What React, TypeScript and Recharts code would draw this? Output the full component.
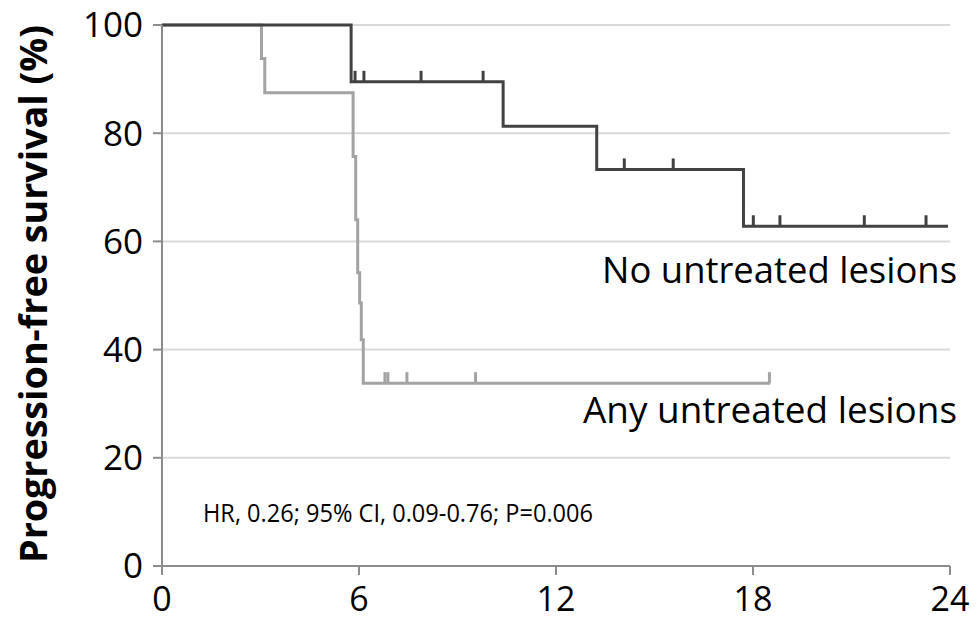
import React from "react";
import {
  ComposedChart,
  Line,
  Scatter,
  XAxis,
  YAxis,
  CartesianGrid,
  Customized,
} from "recharts";

const noUntreated = [
  { x: 0, y: 100 },
  { x: 5.76, y: 89.5 },
  { x: 10.39, y: 81.3 },
  { x: 13.24, y: 73.3 },
  { x: 17.71, y: 62.8 },
  { x: 23.94, y: 62.8 },
];

const anyUntreated = [
  { x: 0, y: 100 },
  { x: 3.03, y: 93.8 },
  { x: 3.13, y: 87.5 },
  { x: 5.82, y: 75.7 },
  { x: 5.9, y: 64.0 },
  { x: 5.96, y: 54.2 },
  { x: 6.02, y: 48.6 },
  { x: 6.07, y: 41.8 },
  { x: 6.13, y: 33.8 },
  { x: 18.52, y: 33.8 },
];

const noUntreatedCensored = [
  { x: 5.88, y: 89.5 },
  { x: 6.15, y: 89.5 },
  { x: 7.89, y: 89.5 },
  { x: 9.78, y: 89.5 },
  { x: 14.08, y: 73.3 },
  { x: 15.57, y: 73.3 },
  { x: 18.01, y: 62.8 },
  { x: 18.82, y: 62.8 },
  { x: 21.39, y: 62.8 },
  { x: 23.27, y: 62.8 },
];

const anyUntreatedCensored = [
  { x: 6.79, y: 33.8 },
  { x: 6.88, y: 33.8 },
  { x: 7.46, y: 33.8 },
  { x: 9.55, y: 33.8 },
  { x: 18.5, y: 33.8 },
];

const xTicks = [0, 6, 12, 18, 24];
const yTicks = [0, 20, 40, 60, 80, 100];

const DARK = "#424242";
const LIGHT = "#a3a3a3";
const FONT = "'Open Sans', sans-serif";

const censorShape = (color: string) => (props: any) => {
  const { cx, cy } = props;
  return (
    <line x1={cx} x2={cx} y1={cy} y2={cy - 11} stroke={color} strokeWidth={3} />
  );
};

const Annotations = () => (
  <g fontFamily={FONT} fill="#000">
    <text
      transform="translate(47 294) rotate(-90)"
      x={0}
      y={0}
      textAnchor="middle"
      fontSize={38}
      fontWeight="bold"
      textLength={538}
      lengthAdjust="spacingAndGlyphs"
    >
      Progression-free survival (%)
    </text>
    <text
      x={602}
      y={283}
      fontSize={37}
      textLength={355}
      lengthAdjust="spacingAndGlyphs"
    >
      No untreated lesions
    </text>
    <text
      x={583}
      y={423}
      fontSize={37}
      textLength={374}
      lengthAdjust="spacingAndGlyphs"
    >
      Any untreated lesions
    </text>
    <text
      x={203}
      y={522}
      fontSize={25}
      textLength={390}
      lengthAdjust="spacingAndGlyphs"
    >
      HR, 0.26; 95% CI, 0.09-0.76; P=0.006
    </text>
  </g>
);

export default function App() {
  return (
    <div
      style={{
        position: "absolute",
        top: 0,
        left: 0,
        width: 978,
        height: 617,
        background: "#fff",
      }}
    >
      <ComposedChart
        width={978}
        height={617}
        margin={{ top: 25, right: 28, bottom: 11, left: 82 }}
      >
        <CartesianGrid vertical={false} stroke="#d9d9d9" strokeWidth={2} />
        <XAxis
          dataKey="x"
          type="number"
          domain={[0, 24]}
          ticks={xTicks}
          height={40}
          stroke="#8c8c8c"
          strokeWidth={2}
          tickSize={9}
          tickMargin={12}
          tick={{ fill: "#000", fontSize: 34, fontFamily: FONT }}
          allowDuplicatedCategory={false}
        />
        <YAxis
          dataKey="y"
          type="number"
          domain={[0, 100]}
          ticks={yTicks}
          width={80}
          stroke="#8c8c8c"
          strokeWidth={2}
          tickSize={9}
          tickMargin={10}
          tick={{ fill: "#000", fontSize: 35, fontFamily: FONT }}
        />
        <Line
          data={anyUntreated}
          dataKey="y"
          type="stepAfter"
          stroke={LIGHT}
          strokeWidth={3}
          dot={false}
          isAnimationActive={false}
        />
        <Scatter
          data={anyUntreatedCensored}
          dataKey="y"
          shape={censorShape(LIGHT)}
          isAnimationActive={false}
        />
        <Line
          data={noUntreated}
          dataKey="y"
          type="stepAfter"
          stroke={DARK}
          strokeWidth={3}
          dot={false}
          isAnimationActive={false}
        />
        <Scatter
          data={noUntreatedCensored}
          dataKey="y"
          shape={censorShape(DARK)}
          isAnimationActive={false}
        />
        <Customized component={Annotations} />
      </ComposedChart>
    </div>
  );
}
